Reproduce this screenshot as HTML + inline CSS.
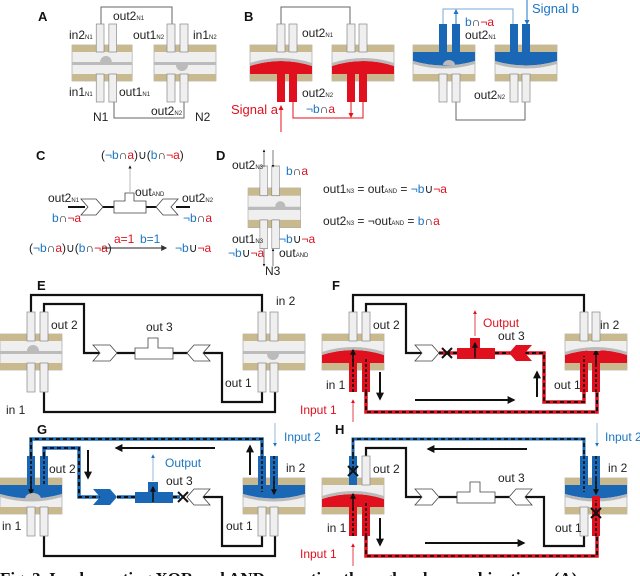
<!DOCTYPE html>
<html><head><meta charset="utf-8"><style>
html,body{margin:0;padding:0;background:#fff;}
svg{display:block;font-family:"Liberation Sans",Arial,sans-serif;}
.l{font-size:12px;fill:#222}
.s{font-size:6px}
.b{font-weight:bold;font-size:13px;fill:#111}
.bl{fill:#1b75c4}.rd{fill:#e0101e}
</style></head><body>
<svg width="640" height="576" viewBox="0 0 640 576" xmlns="http://www.w3.org/2000/svg">
<defs>
<g id="body"><rect width="62" height="36" fill="#efefef" stroke="#999" stroke-width="0.6"/><rect width="62" height="7" fill="#c9b98f"/><rect y="29" width="62" height="7" fill="#c9b98f"/></g>
<g id="redlow"><path d="M0,21 Q31,11 62,21 V29 H0Z" fill="#e0101e"/><path d="M0,18 Q31,8 62,18 V21 Q31,11 0,21Z" fill="#b9b9b9"/></g>
<g id="blueup"><path d="M0,7 H62 V16 Q31,25 0,16Z" fill="#1a68b5"/><path d="M0,16 Q31,25 62,16 V19 Q31,28 0,19Z" fill="#b9b9b9"/></g>
<marker id="ak" viewBox="0 0 10 10" refX="8" refY="5" markerWidth="4" markerHeight="4" orient="auto"><path d="M0,0 L10,5 L0,10Z" fill="#111"/></marker>
<marker id="ar" viewBox="0 0 10 10" refX="8" refY="5" markerWidth="5" markerHeight="5" orient="auto"><path d="M0,0 L10,5 L0,10Z" fill="#e0101e"/></marker>
<marker id="ab" viewBox="0 0 10 10" refX="8" refY="5" markerWidth="5" markerHeight="5" orient="auto"><path d="M0,0 L10,5 L0,10Z" fill="#1b75c4"/></marker>
<marker id="as" viewBox="0 0 10 10" refX="8" refY="5" markerWidth="6" markerHeight="6" orient="auto"><path d="M0,0 L10,5 L0,10Z" fill="#333"/></marker>
</defs>

<!-- ===== A ===== -->
<text x="38" y="21" class="b">A</text>
<path d="M101,24 V7 H172 V24" fill="none" stroke="#666" stroke-width="1"/>
<path d="M114,102 V118 H184 V102" fill="none" stroke="#666" stroke-width="1"/>
<g transform="translate(72,45) scale(0.97,1)">
<use href="#body"/>
<g fill="#efefef" stroke="#888" stroke-width="0.7"><rect x="25" y="-21" width="8" height="28"/><rect x="38" y="-21" width="8" height="28"/><rect x="25" y="29" width="8" height="28"/><rect x="38" y="29" width="8" height="28"/></g>
<path d="M0,17 H29 A6,6 0 0 1 41,17 H62 V20 H0Z" fill="#bbb"/></g>
<g transform="translate(154,45)">
<use href="#body"/>
<g fill="#efefef" stroke="#888" stroke-width="0.7"><rect x="13" y="-21" width="8" height="28"/><rect x="26" y="-21" width="8" height="28"/><rect x="13" y="29" width="8" height="28"/><rect x="26" y="29" width="8" height="28"/></g>
<path d="M0,17 H62 V20 H34 A6,6 0 0 1 22,20 H0Z" fill="#bbb"/></g>
<text x="69" y="39" class="l">in2<tspan class="s">N1</tspan></text>
<text x="113" y="20" class="l">out2<tspan class="s">N1</tspan></text>
<text x="133" y="39" class="l">out1<tspan class="s">N2</tspan></text>
<text x="193" y="39" class="l">in1<tspan class="s">N2</tspan></text>
<text x="69" y="96" class="l">in1<tspan class="s">N1</tspan></text>
<text x="119" y="96" class="l">out1<tspan class="s">N1</tspan></text>
<text x="151" y="115" class="l">out2<tspan class="s">N2</tspan></text>
<text x="93" y="121" class="l">N1</text>
<text x="195" y="121" class="l">N2</text>

<!-- ===== B ===== -->
<text x="244" y="21" class="b">B</text>
<path d="M281,24 V7 H350 V24" fill="none" stroke="#666" stroke-width="1"/>
<g transform="translate(250,45)">
<use href="#body"/><use href="#redlow"/>
<g stroke="#888" stroke-width="0.7"><rect x="27" y="-21" width="8" height="28" fill="#efefef"/><rect x="39" y="-21" width="8" height="28" fill="#efefef"/></g>
<rect x="27" y="26" width="8" height="31" fill="#e0101e"/><rect x="39" y="26" width="8" height="31" fill="#e0101e"/></g>
<g transform="translate(332,45)">
<use href="#body"/><use href="#redlow"/>
<g stroke="#888" stroke-width="0.7"><rect x="15" y="-21" width="8" height="28" fill="#efefef"/><rect x="27" y="-21" width="8" height="28" fill="#efefef"/></g>
<rect x="15" y="26" width="8" height="31" fill="#e0101e"/><rect x="27" y="26" width="8" height="31" fill="#e0101e"/></g>
<path d="M281,132 V106" stroke="#e0101e" stroke-width="1" marker-end="url(#ar)"/>
<path d="M293,102 V118 H363 V102" fill="none" stroke="#e0101e" stroke-width="1"/>
<path d="M351,102 V117" stroke="#e0101e" stroke-width="1" marker-end="url(#ar)"/>
<text x="231" y="114" class="l rd" style="font-size:13px">Signal a</text>
<text x="302" y="37" class="l">out2<tspan class="s">N1</tspan></text>
<text x="302" y="97" class="l">out2<tspan class="s">N2</tspan></text>
<text x="306" y="113" class="l"><tspan class="bl">¬b</tspan>∩<tspan class="rd">a</tspan></text>

<path d="M443,24 V9 H513 V24" fill="none" stroke="#7aa9d6" stroke-width="1"/>
<path d="M525,102 V120 H456 V102" fill="none" stroke="#666" stroke-width="1"/>
<g transform="translate(413,45)">
<use href="#body"/><use href="#blueup"/>
<g stroke="#888" stroke-width="0.7"><rect x="26" y="29" width="8" height="28" fill="#efefef"/><rect x="39" y="29" width="8" height="28" fill="#efefef"/></g>
<rect x="26" y="-21" width="8" height="30" fill="#1a68b5"/><rect x="39" y="-21" width="8" height="30" fill="#1a68b5"/>
<path d="M30,20 A6,5 0 0 1 42,20Z" fill="#bbb"/></g>
<g transform="translate(495,45)">
<use href="#body"/><use href="#blueup"/>
<g stroke="#888" stroke-width="0.7"><rect x="15" y="29" width="8" height="28" fill="#efefef"/><rect x="27" y="29" width="8" height="28" fill="#efefef"/></g>
<rect x="15" y="-21" width="8" height="30" fill="#1a68b5"/><rect x="27" y="-21" width="8" height="30" fill="#1a68b5"/></g>
<path d="M456,24 V10" stroke="#1b75c4" stroke-width="1" marker-end="url(#ab)"/>
<path d="M527,0 V24" stroke="#1b75c4" stroke-width="1" marker-end="url(#ab)"/>
<text x="465" y="26" class="l"><tspan class="bl">b</tspan>∩<tspan class="rd">¬a</tspan></text>
<text x="465" y="39" class="l">out2<tspan class="s">N1</tspan></text>
<text x="532" y="13" class="l bl" style="font-size:13px">Signal b</text>
<text x="474" y="99" class="l">out2<tspan class="s">N2</tspan></text>

<!-- ===== C ===== -->
<text x="36" y="160" class="b">C</text>
<text x="101" y="159" class="l">(<tspan class="bl">¬b</tspan>∩<tspan class="rd">a</tspan>)∪(<tspan class="bl">b</tspan>∩<tspan class="rd">¬a</tspan>)</text>
<path d="M130,192 V166" stroke="#aaa" stroke-width="0.8" marker-end="url(#ak)"/>
<path d="M68,207 H85 M100,207 H114 M146,207 H160 M176,207 H190" stroke="#111" stroke-width="2"/>
<path d="M81,199 H96 L103,207 L96,215 H81 L88,207Z" fill="#fff" stroke="#444" stroke-width="0.8"/>
<path d="M114,201 H125 V193 H134 V201 H146 V213 H114Z" fill="#fff" stroke="#444" stroke-width="0.8"/>
<path d="M178,199 H163 L156,207 L163,215 H178 L171,207Z" fill="#fff" stroke="#444" stroke-width="0.8"/>
<text x="48" y="202" class="l">out2<tspan class="s">N1</tspan></text>
<text x="52" y="222" class="l"><tspan class="bl">b</tspan>∩<tspan class="rd">¬a</tspan></text>
<text x="135" y="196" class="l">out<tspan class="s">AND</tspan></text>
<text x="182" y="202" class="l">out2<tspan class="s">N2</tspan></text>
<text x="183" y="222" class="l"><tspan class="bl">¬b</tspan>∩<tspan class="rd">a</tspan></text>
<text x="29" y="252" class="l">(<tspan class="bl">¬b</tspan>∩<tspan class="rd">a</tspan>)∪(<tspan class="bl">b</tspan>∩<tspan class="rd">¬a</tspan>)</text>
<path d="M102,248 H166" stroke="#222" stroke-width="1" marker-end="url(#as)"/>
<text x="114" y="243" class="l rd">a=1</text><text x="140" y="243" class="l bl">b=1</text>
<text x="175" y="252" class="l"><tspan class="bl">¬b</tspan>∪<tspan class="rd">¬a</tspan></text>

<!-- ===== D ===== -->
<text x="216" y="160" class="b">D</text>
<g transform="translate(248,188) scale(0.85,1.1)">
<use href="#body"/>
<g fill="#efefef" stroke="#888" stroke-width="0.7"><rect x="14" y="-20" width="9" height="27"/><rect x="28" y="-20" width="9" height="27"/><rect x="14" y="29" width="9" height="26"/><rect x="28" y="29" width="9" height="26"/></g>
<path d="M0,17 H32 A6,5 0 0 1 44,17 H62 V20 H0Z" fill="#bbb"/></g>
<path d="M264,167 V150" stroke="#444" stroke-width="0.7" marker-end="url(#ak)"/>
<path d="M273,150 V167" stroke="#444" stroke-width="0.7" marker-end="url(#ak)"/>
<path d="M264,249 V266" stroke="#444" stroke-width="0.7" marker-end="url(#ak)"/>
<path d="M273,266 V249" stroke="#444" stroke-width="0.7" marker-end="url(#ak)"/>
<text x="232" y="169" class="l">out2<tspan class="s">N3</tspan></text>
<text x="286" y="175" class="l"><tspan class="bl">b</tspan>∩<tspan class="rd">a</tspan></text>
<text x="232" y="243" class="l">out1<tspan class="s">N3</tspan></text>
<text x="279" y="243" class="l"><tspan class="bl">¬b</tspan>∪<tspan class="rd">¬a</tspan></text>
<text x="228" y="257" class="l"><tspan class="bl">¬b</tspan>∪<tspan class="rd">¬a</tspan></text>
<text x="279" y="257" class="l">out<tspan class="s">AND</tspan></text>
<text x="265" y="275" class="l">N3</text>
<text x="323" y="193" class="l">out1<tspan class="s">N3</tspan> = out<tspan class="s">AND</tspan> = <tspan class="bl">¬b</tspan>∪<tspan class="rd">¬a</tspan></text>
<text x="323" y="225" class="l">out2<tspan class="s">N3</tspan> = ¬out<tspan class="s">AND</tspan> = <tspan class="bl">b</tspan>∩<tspan class="rd">a</tspan></text>

<!-- ===== E ===== -->
<g>
<text x="37" y="290" class="b">E</text>
<g fill="none" stroke="#111" stroke-width="2.2">
<path d="M31,312 V295 H262 V312"/><path d="M44,312 V304 H84 V353 H100"/><path d="M117,353 H135 M173,353 H190"/><path d="M203,353 H222 V402 H262 V392"/><path d="M44,392 V412 H275 V392"/></g>
<path d="M93,345 H110 L117,353 L110,361 H93 L100,353Z" fill="#fff" stroke="#444" stroke-width="0.8"/>
<path d="M135,348 H148 V338 H158 V348 H173 V359 H135Z" fill="#fff" stroke="#444" stroke-width="0.8"/>
<path d="M210,345 H194 L187,353 L194,361 H210 L203,353Z" fill="#fff" stroke="#444" stroke-width="0.8"/>
<g transform="translate(0,334)"><use href="#body"/>
<g fill="#efefef" stroke="#888" stroke-width="0.7"><rect x="27" y="-22" width="8" height="29"/><rect x="40" y="-22" width="8" height="29"/><rect x="27" y="29" width="8" height="29"/><rect x="40" y="29" width="8" height="29"/></g>
<path d="M0,17 H27 A6,6 0 0 1 39,17 H62 V20 H0Z" fill="#bbb"/></g>
<g transform="translate(243,334)"><use href="#body"/>
<g fill="#efefef" stroke="#888" stroke-width="0.7"><rect x="15" y="-22" width="8" height="29"/><rect x="27" y="-22" width="8" height="29"/><rect x="15" y="29" width="8" height="29"/><rect x="27" y="29" width="8" height="29"/></g>
<path d="M0,17 H62 V20 H36 A6,6 0 0 1 24,20 H0Z" fill="#bbb"/></g>
<text x="51" y="329" class="l">out 2</text><text x="146" y="331" class="l">out 3</text><text x="276" y="305" class="l">in 2</text><text x="225" y="387" class="l">out 1</text><text x="6" y="414" class="l">in 1</text>
</g>

<!-- ===== F ===== -->
<g transform="translate(322,0)">
<text x="10" y="290" class="b">F</text>
<g fill="none" stroke="#111" stroke-width="2.2"><path d="M31,312 V295 H262 V312"/><path d="M44,312 V304 H84 V353 H100"/></g>
<g fill="none" stroke="#e0101e" stroke-width="3.5"><path d="M117,353 H135 M173,353 H190"/><path d="M203,353 H222 V402 H262 V392"/><path d="M44,392 V412 H275 V392"/></g>
<g fill="none" stroke="#111" stroke-width="2" stroke-dasharray="4 3"><path d="M117,353 H135 M173,353 H190"/><path d="M203,353 H222 V402 H262 V392"/><path d="M44,392 V412 H275 V392"/></g>
<path d="M93,345 H110 L117,353 L110,361 H93 L100,353Z" fill="#fff" stroke="#444" stroke-width="0.8"/>
<path d="M135,348 H148 V338 H158 V348 H173 V359 H135Z" fill="#e0101e"/>
<path d="M210,345 H194 L187,353 L194,361 H210 L203,353Z" fill="#e0101e"/>
<path d="M120,348 L130,358 M130,348 L120,358" stroke="#111" stroke-width="2"/>
<path d="M153,358 V343" stroke="#111" stroke-width="1.5" marker-end="url(#ak)"/>
<g transform="translate(0,334)"><use href="#body"/><use href="#redlow"/>
<g fill="#efefef" stroke="#888" stroke-width="0.7"><rect x="27" y="-22" width="8" height="29"/><rect x="40" y="-22" width="8" height="29"/></g>
<rect x="27" y="24" width="8" height="34" fill="#e0101e"/><rect x="40" y="24" width="8" height="34" fill="#e0101e"/>
<path d="M31,58 V20 M44,58 V24" stroke="#111" stroke-width="1.6" stroke-dasharray="3 2"/>
<path d="M31,30 V16" stroke="#111" stroke-width="1.5" marker-end="url(#ak)"/></g>
<g transform="translate(243,334)"><use href="#body"/><use href="#redlow"/>
<g fill="#efefef" stroke="#888" stroke-width="0.7"><rect x="15" y="-22" width="8" height="29"/><rect x="27" y="-22" width="8" height="29"/></g>
<rect x="15" y="24" width="8" height="34" fill="#e0101e"/><rect x="27" y="24" width="8" height="34" fill="#e0101e"/>
<path d="M19,58 V22 M31,58 V22" stroke="#111" stroke-width="1.6" stroke-dasharray="3 2"/>
<path d="M31,30 V16" stroke="#111" stroke-width="1.5" marker-end="url(#ak)"/>
<path d="M22,17 A8,6 0 0 1 36,17 Z" fill="#bbb"/></g>
<path d="M58,372 V399" stroke="#111" stroke-width="2" marker-end="url(#ak)"/>
<path d="M93,400 H192" stroke="#111" stroke-width="2" marker-end="url(#ak)"/>
<path d="M215,397 V372" stroke="#111" stroke-width="2" marker-end="url(#ak)"/>
<path d="M153,336 V311" stroke="#e0101e" stroke-width="0.8" marker-end="url(#ar)"/>
<text x="161" y="327" class="l rd">Output</text>
<text x="51" y="329" class="l">out 2</text><text x="176" y="340" class="l">out 3</text><text x="278" y="329" class="l">in 2</text><text x="232" y="389" class="l">out 1</text><text x="4" y="389" class="l">in 1</text>
<text x="-22" y="414" class="l rd">Input 1</text>
<path d="M31,422 V400" stroke="#e0101e" stroke-width="0.8" marker-end="url(#ar)"/>
</g>

<!-- ===== G ===== -->
<g transform="translate(0,144)">
<text x="37" y="290" class="b">G</text>
<g fill="none" stroke="#111" stroke-width="2.2"><path d="M203,353 H222 V402 H262 V392"/><path d="M44,392 V412 H275 V392"/></g>
<g fill="none" stroke="#1a68b5" stroke-width="3.5"><path d="M31,312 V295 H262 V312"/><path d="M44,312 V304 H79 V353 H100"/><path d="M117,353 H135 M173,353 H180"/></g>
<g fill="none" stroke="#111" stroke-width="2" stroke-dasharray="4 3"><path d="M31,312 V295 H262 V312"/><path d="M44,312 V304 H79 V353 H100"/><path d="M117,353 H135 M173,353 H180"/></g>
<path d="M93,345 H110 L117,353 L110,361 H93 L100,353Z" fill="#1a68b5"/>
<path d="M135,348 H148 V338 H158 V348 H173 V359 H135Z" fill="#1a68b5"/>
<path d="M210,345 H194 L187,353 L194,361 H210 L203,353Z" fill="#fff" stroke="#444" stroke-width="0.8"/>
<path d="M178,348 L188,358 M188,348 L178,358" stroke="#111" stroke-width="2"/>
<path d="M153,358 V343" stroke="#111" stroke-width="1.5" marker-end="url(#ak)"/>
<g transform="translate(0,334)"><use href="#body"/><use href="#blueup"/>
<g fill="#efefef" stroke="#888" stroke-width="0.7"><rect x="27" y="29" width="8" height="29"/><rect x="40" y="29" width="8" height="29"/></g>
<rect x="27" y="-22" width="8" height="31" fill="#1a68b5"/><rect x="40" y="-22" width="8" height="31" fill="#1a68b5"/>
<path d="M31,-22 V12 M44,-22 V8" stroke="#111" stroke-width="1.6" stroke-dasharray="3 2"/>
<path d="M31,0 V16" stroke="#111" stroke-width="1.5" marker-end="url(#ak)"/>
<path d="M25,21 A8,6 0 0 1 41,21Z" fill="#bbb"/></g>
<g transform="translate(243,334)"><use href="#body"/><use href="#blueup"/>
<g fill="#efefef" stroke="#888" stroke-width="0.7"><rect x="15" y="29" width="8" height="29"/><rect x="27" y="29" width="8" height="29"/></g>
<rect x="15" y="-22" width="8" height="31" fill="#1a68b5"/><rect x="27" y="-22" width="8" height="31" fill="#1a68b5"/>
<path d="M19,-22 V14 M31,-22 V10" stroke="#111" stroke-width="1.6" stroke-dasharray="3 2"/>
<path d="M31,0 V16" stroke="#111" stroke-width="1.5" marker-end="url(#ak)"/></g>
<path d="M215,304 H116" stroke="#111" stroke-width="2" marker-end="url(#ak)"/>
<path d="M88,306 V334" stroke="#111" stroke-width="2" marker-end="url(#ak)"/>
<path d="M250,331 V302" stroke="#111" stroke-width="2" marker-end="url(#ak)"/>
<path d="M153,337 V311" stroke="#7aa9d6" stroke-width="0.8" marker-end="url(#ab)"/>
<text x="165" y="323" class="l bl">Output</text>
<path d="M275,279 V302" stroke="#7aa9d6" stroke-width="0.8" marker-end="url(#ab)"/>
<text x="284" y="297" class="l bl">Input 2</text>
<text x="49" y="329" class="l">out 2</text><text x="166" y="341" class="l">out 3</text><text x="286" y="328" class="l">in 2</text><text x="226" y="386" class="l">out 1</text><text x="2" y="386" class="l">in 1</text>
</g>

<!-- ===== H ===== -->
<g transform="translate(322,144)">
<text x="13" y="290" class="b">H</text>
<g fill="none" stroke="#111" stroke-width="2.2"><path d="M44,312 V304 H84 V353 H100"/><path d="M117,353 H135 M173,353 H190"/><path d="M203,353 H222 V402 H262 V392"/></g>
<path d="M31,312 V295 H262 V312" fill="none" stroke="#1a68b5" stroke-width="3"/>
<path d="M44,392 V412 H275 V392" fill="none" stroke="#e0101e" stroke-width="3.5"/>
<g fill="none" stroke="#111" stroke-width="1.8" stroke-dasharray="4 3"><path d="M31,312 V295 H262 V312"/><path d="M44,392 V412 H275 V392"/></g>
<path d="M93,345 H110 L117,353 L110,361 H93 L100,353Z" fill="#fff" stroke="#444" stroke-width="0.8"/>
<path d="M135,348 H148 V338 H158 V348 H173 V359 H135Z" fill="#fff" stroke="#444" stroke-width="0.8"/>
<path d="M210,345 H194 L187,353 L194,361 H210 L203,353Z" fill="#fff" stroke="#444" stroke-width="0.8"/>
<g transform="translate(0,334)"><use href="#body"/><use href="#redlow"/>
<rect x="27" y="-22" width="8" height="29" fill="#1a68b5"/><rect x="40" y="-22" width="8" height="29" fill="#efefef" stroke="#888" stroke-width="0.7"/>
<rect x="27" y="24" width="8" height="34" fill="#e0101e"/><rect x="40" y="24" width="8" height="34" fill="#e0101e"/>
<path d="M31,-22 V-6 M44,58 V24" stroke="#111" stroke-width="1.6" stroke-dasharray="3 2"/>
<path d="M26,-12 L36,-2 M36,-12 L26,-2" stroke="#111" stroke-width="2"/>
<path d="M31,58 V30" stroke="#111" stroke-width="1.6" stroke-dasharray="3 2"/>
<path d="M31,32 V16" stroke="#111" stroke-width="1.5" marker-end="url(#ak)"/></g>
<g transform="translate(243,334)"><use href="#body"/><use href="#blueup"/>
<rect x="15" y="29" width="8" height="29" fill="#efefef" stroke="#888" stroke-width="0.7"/>
<rect x="27" y="18" width="8" height="40" fill="#e0101e"/>
<rect x="15" y="-22" width="8" height="31" fill="#1a68b5"/><rect x="27" y="-22" width="8" height="31" fill="#1a68b5"/>
<path d="M19,-22 V14 M31,-22 V10 M31,58 V22" stroke="#111" stroke-width="1.6" stroke-dasharray="3 2"/>
<path d="M31,0 V16" stroke="#111" stroke-width="1.5" marker-end="url(#ak)"/>
<path d="M26,30 L36,40 M36,30 L26,40" stroke="#111" stroke-width="2"/></g>
<path d="M205,305 H106" stroke="#111" stroke-width="2" marker-end="url(#ak)"/>
<path d="M58,374 V401" stroke="#111" stroke-width="2" marker-end="url(#ak)"/>
<path d="M103,399 H202" stroke="#111" stroke-width="2" marker-end="url(#ak)"/>
<path d="M275,279 V302" stroke="#7aa9d6" stroke-width="0.8" marker-end="url(#ab)"/>
<text x="283" y="297" class="l bl">Input 2</text>
<text x="-22" y="414" class="l rd">Input 1</text>
<path d="M31,422 V400" stroke="#e0101e" stroke-width="0.8" marker-end="url(#ar)"/>
<text x="51" y="329" class="l">out 2</text><text x="176" y="338" class="l">out 3</text><text x="286" y="328" class="l">in 2</text><text x="233" y="388" class="l">out 1</text><text x="5" y="388" class="l">in 1</text>
</g>

<text x="0" y="584" style="font-family:'Liberation Serif',serif;font-weight:bold;font-size:17px;fill:#111">Fig. 3. Implementing XOR and AND operation through valve combinations. (A)</text>
</svg>
</body></html>
